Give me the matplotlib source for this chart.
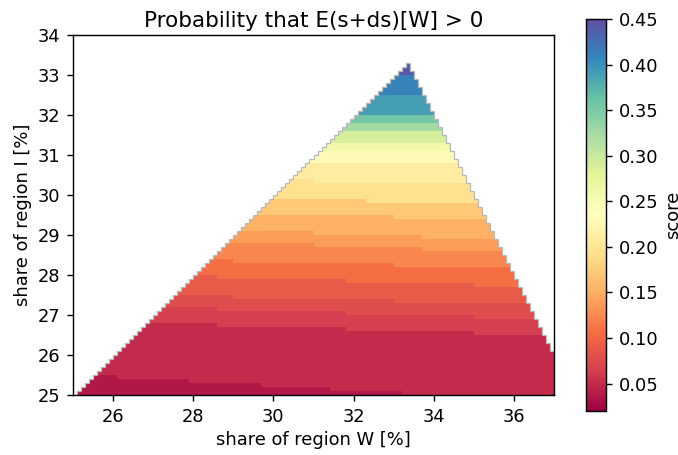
import numpy as np
import matplotlib
matplotlib.use("Agg")
import matplotlib.pyplot as plt

# grid of the simplex (share of W, share of I), 0.1 % steps
w_edges = np.round(np.arange(25.0, 37.0001, 0.1), 2)
i_edges = np.round(np.arange(25.0, 34.0001, 0.1), 2)

# score bands: lower edge of each band at W=27 and W=35
band_lo_left = [-99, 25.40, 26.80, 27.20, 27.50, 28.00, 28.40, 28.90, 29.20, 29.60,
                29.95, 30.40, 30.80, 31.10, 31.30, 31.60, 31.80, 32.00, 32.50, 33.05]
band_lo_right = [-99, 24.95, 26.55, 26.95, 27.30, 27.75, 28.20, 28.60, 28.90, 29.40,
                 29.80, 30.30, 30.75, 31.10, 31.30, 31.60, 31.85, 32.00, 32.50, 33.05]
band_score = [0.036, 0.050, 0.064, 0.077, 0.090, 0.106, 0.124, 0.138, 0.152, 0.172,
              0.195, 0.210, 0.228, 0.258, 0.290, 0.325, 0.355, 0.390, 0.410, 0.440]

s = 1.29
plt.rcParams.update({
    "font.size": 10 * s,
    "axes.titlesize": 12 * s,
    "axes.linewidth": 0.8 * s,
    "xtick.major.size": 3.5 * s, "ytick.major.size": 3.5 * s,
    "xtick.major.width": 0.8 * s, "ytick.major.width": 0.8 * s,
    "xtick.major.pad": 3.5 * s, "ytick.major.pad": 3.5 * s,
})

wc = w_edges[:-1] + 0.05
ic = i_edges[:-1] + 0.05
a = np.arange(len(wc))
b = np.arange(len(ic))
A, B = np.meshgrid(a, b)
inside = (B < A) & (2 * A + B <= 248)   # I < W and W <= remaining share

W, I = np.meshgrid(wc, ic)
lo_l = np.array(band_lo_left)
lo_r = np.array(band_lo_right)
lo = lo_l[None, None, :] + (lo_r - lo_l)[None, None, :] * (W[..., None] - 27) / 8
idx = (lo <= I[..., None]).sum(axis=-1) - 1
score = np.array(band_score)[idx]
score = np.ma.masked_where(~inside, score)

fig = plt.figure(figsize=(6.78, 4.55), dpi=100)
ax = fig.add_axes([0.1077, 0.1319, 0.7094, 0.7912])
cax = fig.add_axes([0.8643, 0.0967, 0.0295, 0.8615])

mesh = ax.pcolormesh(w_edges, i_edges, score, cmap="Spectral", vmin=0.02, vmax=0.45,
                     shading="flat", antialiased=False, edgecolors="none")

# light outline of the staircase edge
top = np.array([i_edges[b[inside[:, k]].max() + 1] if inside[:, k].any() else 25.0
                for k in a])
ax.stairs(top, w_edges, baseline=None, color="0.72", lw=0.9)

ax.set_xlim(25, 37)
ax.set_ylim(25, 34)
ax.set_xticks([26, 28, 30, 32, 34, 36])
ax.set_yticks(range(25, 35))
ax.set_xlabel("share of region W [%]")
ax.set_ylabel("share of region I [%]")
ax.set_title("Probability that E(s+ds)[W] > 0")

cb = fig.colorbar(mesh, cax=cax)
cb.set_ticks([0.05, 0.10, 0.15, 0.20, 0.25, 0.30, 0.35, 0.40, 0.45])
cb.set_label("score")
cb.outline.set_linewidth(0.8 * s)

fig.savefig("out.png", dpi=100)
